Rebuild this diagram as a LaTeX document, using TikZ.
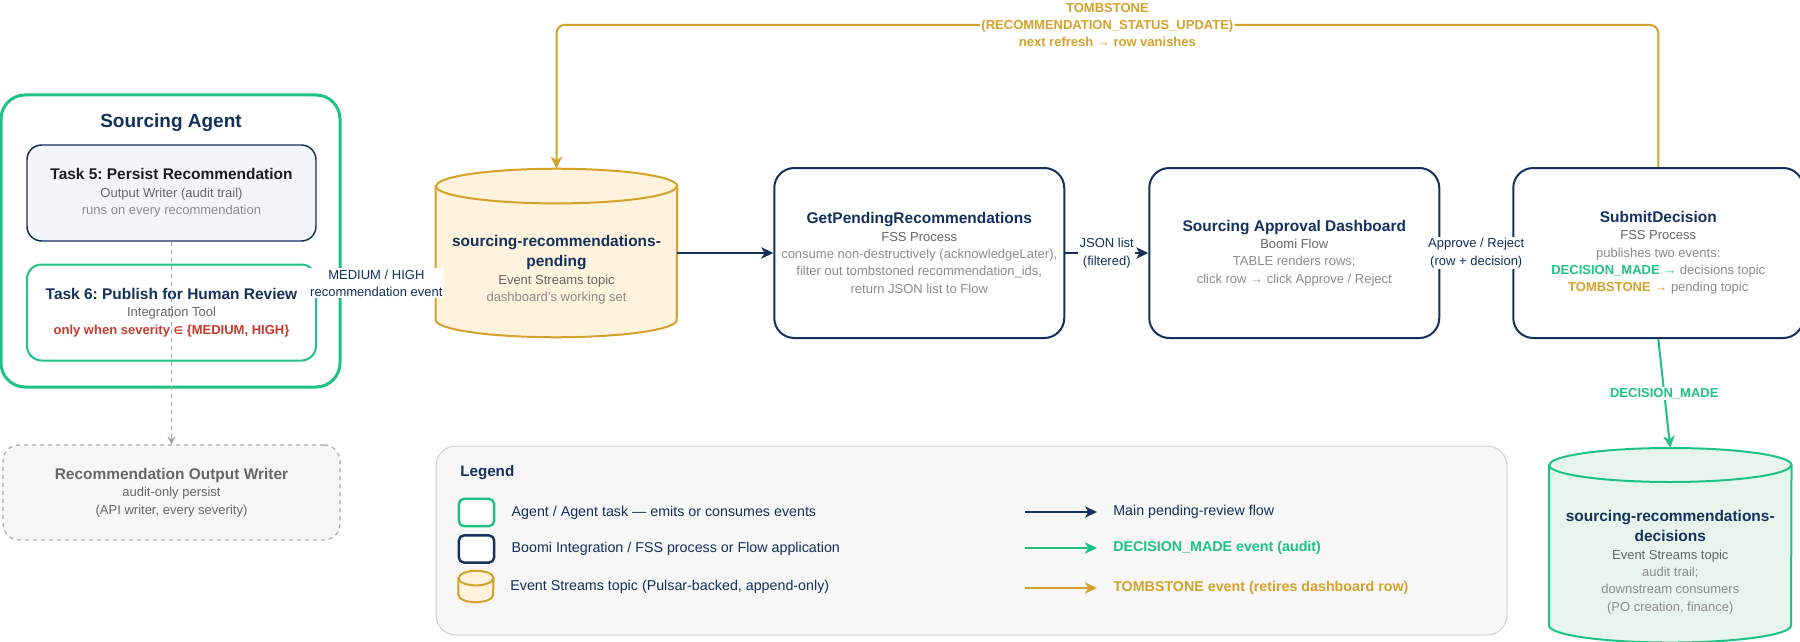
\documentclass[tikz,border=0pt]{standalone}
\usepackage{fontspec}
\setmainfont{Liberation Sans}
\newfontfamily\symfont{DejaVu Sans}
\usepackage{tikz}
\usetikzlibrary{arrows.meta,positioning}
\definecolor{navy}{HTML}{13315C}
\definecolor{inkblack}{HTML}{1C1C1C}
\definecolor{agentgreen}{HTML}{1EC283}
\definecolor{topicgold}{HTML}{D4A22B}
\definecolor{topicfill}{HTML}{FFF3DD}
\definecolor{auditfill}{HTML}{E7F5EC}
\definecolor{taskfill}{HTML}{F2F6FB}
\definecolor{subgray}{HTML}{666666}
\definecolor{notegray}{HTML}{8C8C8C}
\definecolor{alertred}{HTML}{C83A2E}
\definecolor{panelfill}{HTML}{F7F7F7}
\definecolor{panelline}{HTML}{CFCFCF}
\definecolor{writerline}{HTML}{A8A8A8}
\newcommand{\headfont}{\fontsize{11.6pt}{13pt}\selectfont\bfseries}
\newcommand{\bodyfont}{\fontsize{9.75pt}{13pt}\selectfont}
\newcommand{\keyfont}{\fontsize{10.7pt}{13pt}\selectfont}
\newcommand{\subtext}[1]{{\color{subgray}#1}}
\newcommand{\notetext}[1]{{\color{notegray}#1}}
% topic cylinder round a slot node: node, half width, cap radius, paint style
\newcommand{\drawtopic}[4]{%
  \path[#4] ([yshift=-#3]#1.north west) -- ([yshift=#3]#1.south west)
    arc[start angle=180, end angle=360, x radius=#2, y radius=#3]
    -- ([yshift=-#3]#1.north east)
    arc[start angle=0, end angle=180, x radius=#2, y radius=#3] -- cycle;
  \draw[#4, fill=none] ([yshift=-#3]#1.north west)
    arc[start angle=180, end angle=360, x radius=#2, y radius=#3];}
\frenchspacing

\begin{document}
\begin{tikzpicture}[
  x=0.75pt, y=-0.75pt,
  font=\bodyfont,
  agentbox/.style={
    draw=agentgreen,
    fill=white,
    line width=2.25pt,
    rounded corners=18pt,
    minimum width=254.25pt,
    minimum height=219pt
  },
  taskbox/.style={
    rounded corners=11pt,
    minimum width=216.75pt,
    minimum height=72pt,
    align=center,
    inner sep=0pt
  },
  fssbox/.style={
    draw=navy,
    fill=white,
    line width=1.5pt,
    rounded corners=15pt,
    minimum width=217.5pt,
    minimum height=127.5pt,
    align=center,
    inner sep=0pt
  },
  topicslot/.style={
    minimum width=180.75pt,
    minimum height=126pt,
    inner sep=0pt
  },
  topicpaint/.style={draw=topicgold, fill=topicfill, line width=1.5pt},
  auditpaint/.style={draw=agentgreen, fill=auditfill, line width=1.5pt},
  writerbox/.style={
    draw=writerline,
    fill=panelfill,
    dashed,
    line width=0.9pt,
    rounded corners=12pt,
    minimum width=252.75pt,
    minimum height=71.25pt,
    align=center,
    inner sep=0pt
  },
  panel/.style={
    draw=panelline,
    fill=panelfill,
    line width=0.75pt,
    rounded corners=15pt,
    minimum width=803.25pt,
    minimum height=141.75pt
  },
  swatch/.style={
    fill=white,
    line width=1.8pt,
    rounded corners=4pt,
    minimum width=26.5pt,
    minimum height=20.5pt,
    inner sep=0pt
  },
  keytext/.style={anchor=west, inner xsep=0pt, text=navy, font=\keyfont},
  edgelabel/.style={fill=white, align=center, inner sep=1pt, text=navy},
  mainflow/.style={
    -{Stealth[length=9pt,width=8.5pt,inset=2.5pt]},
    draw=navy,
    line width=1.5pt
  },
  auditflow/.style={mainflow, draw=agentgreen},
  tombflow/.style={mainflow, draw=topicgold},
  auditlink/.style={
    -{Stealth[length=6pt,width=6pt]},
    draw=notegray!80,
    dashed,
    line width=0.75pt
  }
]
\useasboundingbox (0,0) rectangle (1800,642);

% agent and its two tasks
\node[agentbox] (agent) at (170.5,241) {};
\node[font=\fontsize{14.25pt}{16pt}\selectfont\bfseries, text=navy] (agenttitle) at (171,123) {Sourcing Agent};
\node[taskbox, draw=navy, fill=taskfill, line width=1.1pt] (task5) at (171.5,193) {%
  {\headfont\color{inkblack}Task 5: Persist Recommendation}\\
  \subtext{Output Writer (audit trail)}\\
  \notetext{runs on every recommendation}};
\node[taskbox, draw=agentgreen, fill=white, line width=1.5pt] (task6) at (171.5,312.5) {%
  {\headfont\color{navy}Task 6: Publish for Human Review}\\
  \subtext{Integration Tool}\\
  {\bfseries\color{alertred}only when severity {\symfont\fontsize{8pt}{10pt}\selectfont ∈} \{MEDIUM, HIGH\}}};
\node[writerbox] (writer) at (171.5,492.5) {%
  {\headfont\color{subgray}Recommendation Output Writer}\\
  \subtext{audit-only persist}\\
  \subtext{(API writer, every severity)}};
\draw[auditlink] (task5.south) -- (writer.north);

% pending-review row
\node[topicslot] (pending) at (556.5,253) {};
\drawtopic{pending}{90.375pt}{13pt}{topicpaint}
\node[align=center, text=navy] (pendingtext) at ([yshift=-12.75pt]pending.center) {%
  {\headfont sourcing-recommendations-}\\[2pt]
  {\headfont pending}\\
  \subtext{Event Streams topic}\\
  \notetext{dashboard's working set}};
\node[fssbox, right=72pt of pending] (getpending) {%
  {\headfont\color{navy}GetPendingRecommendations}\\
  \subtext{FSS Process}\\
  \notetext{consume non-destructively (acknowledgeLater),}\\
  \notetext{filter out tombstoned recommendation\_ids,}\\
  \notetext{return JSON list to Flow}};
\node[fssbox, right=62.25pt of getpending] (dashboard) {%
  {\headfont\color{navy}Sourcing Approval Dashboard}\\
  \subtext{Boomi Flow}\\
  \notetext{TABLE renders rows;}\\
  \notetext{click row → click Approve / Reject}};
\node[fssbox, right=54pt of dashboard] (submit) {%
  {\headfont\color{navy}SubmitDecision}\\
  \subtext{FSS Process}\\
  \notetext{publishes two events:}\\
  {\bfseries\color{agentgreen}DECISION\_MADE →} \notetext{decisions topic}\\
  {\bfseries\color{topicgold}TOMBSTONE →} \notetext{pending topic}};
\node[topicslot, minimum height=145.5pt, minimum width=181.5pt,
  below=81.75pt of submit, xshift=9pt] (decisions) {};
\drawtopic{decisions}{90.75pt}{12.75pt}{auditpaint}
\node[align=center, text=navy] (decisionstext) at ([yshift=-12.75pt]decisions.center) {%
  {\headfont sourcing-recommendations-}\\[2pt]
  {\headfont decisions}\\
  \subtext{Event Streams topic}\\
  \notetext{audit trail;}\\
  \notetext{downstream consumers}\\
  \notetext{(PO creation, finance)}};

% connectors
\coordinate (severitytap) at ([yshift=22pt]task6.east);
\draw[mainflow] (severitytap) -- (severitytap -| pending.west)
  node[midway, edgelabel] {MEDIUM / HIGH\\recommendation event};
\draw[mainflow] (pending) -- (getpending);
\draw[mainflow] (getpending) -- (dashboard)
  node[midway, edgelabel] {JSON list\\(filtered)};
\draw[mainflow] (dashboard) -- (submit)
  node[midway, edgelabel] {Approve / Reject\\(row + decision)};
\draw[auditflow] (submit.south) -- (decisions.north)
  node[midway, edgelabel, text=agentgreen, font=\bodyfont\bfseries] {DECISION\_MADE};
\coordinate (tombrail) at (1104,25);
\draw[tombflow, rounded corners=6pt] (submit.north) -- (submit.north |- tombrail)
  -- (pending.north |- tombrail)
  node[midway, edgelabel, text=topicgold, font=\bodyfont\bfseries] {TOMBSTONE\\(RECOMMENDATION\_STATUS\_UPDATE)\\next refresh → row vanishes}
  -- (pending.north);

% legend
\node[panel] (legend) at (971.5,540.5) {};
\node[anchor=west, inner xsep=0pt, text=navy, font=\fontsize{11.4pt}{13pt}\selectfont\bfseries] (legendtitle) at (460,473) {Legend};
\node[swatch, draw=agentgreen] (keyagent) at (476.5,512.5) {};
\node[swatch, draw=navy] (keyfss) at (476.5,549) {};
\node[topicslot, minimum width=26pt, minimum height=23.25pt] (keytopic) at (476,586.5) {};
\drawtopic{keytopic}{13pt}{5.5pt}{topicpaint}
\node[keytext, right=12pt of keyagent] (keyagenttext) {Agent / Agent task — emits or consumes events};
\node[keytext, right=12pt of keyfss] (keyfsstext) {Boomi Integration / FSS process or Flow application};
\node[keytext, right=12.4pt of keytopic] (keytopictext) {Event Streams topic (Pulsar-backed, append-only)};
\node[keytext] (keymain) at (1113,512) {Main pending-review flow};
\node[keytext, text=agentgreen, font=\keyfont\bfseries] (keyaudit) at (1113,548) {DECISION\_MADE event (audit)};
\node[keytext, text=topicgold, font=\keyfont\bfseries] (keytomb) at (1113,588) {TOMBSTONE event (retires dashboard row)};
\draw[mainflow] ([xshift=-66pt]keymain.west) -- ([xshift=-12pt]keymain.west);
\draw[auditflow] ([xshift=-66pt]keyaudit.west) -- ([xshift=-12pt]keyaudit.west);
\draw[tombflow] ([xshift=-66pt]keytomb.west) -- ([xshift=-12pt]keytomb.west);
\end{tikzpicture}
\end{document}
